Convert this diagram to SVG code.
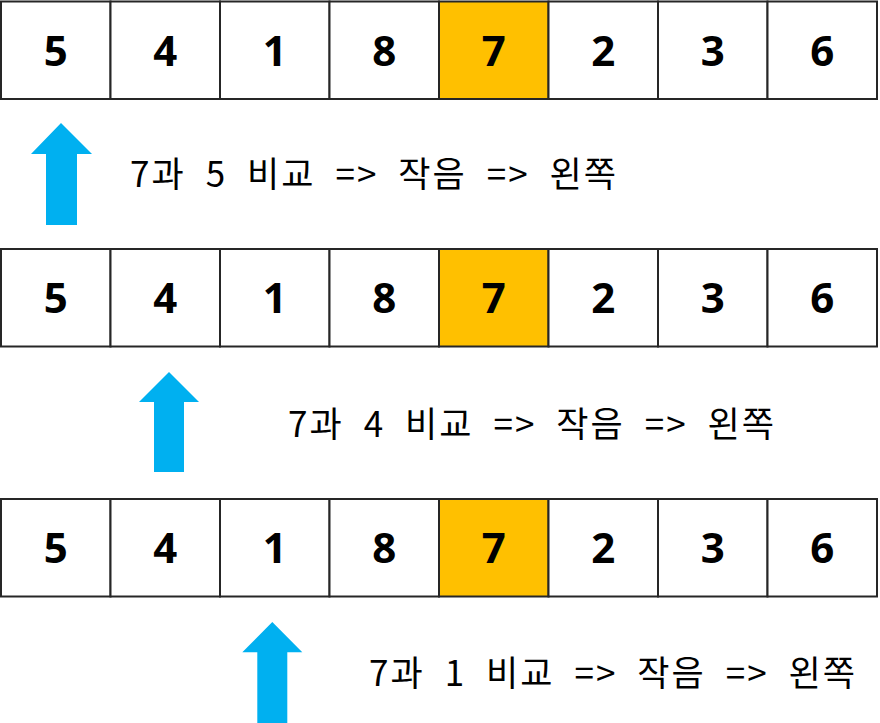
<svg xmlns="http://www.w3.org/2000/svg" width="880" height="723" viewBox="0 0 880 723">
<style>
.cell{fill:#ffffff;stroke:#262626;stroke-width:2}
.hl{fill:#FFC000}
.num{font-family:"Noto Sans","Liberation Sans",sans-serif;font-weight:bold;font-size:42px;fill:#000;text-anchor:middle}
.lbl{font-family:"Noto Sans CJK KR","Noto Sans",sans-serif;font-size:35px;fill:#000;word-spacing:10px}
.arrow{fill:#00B0F0}
</style>
<defs>
<g id="row">
<rect class="cell" x="1" y="0" width="109.5" height="97.5"/>
<rect class="cell" x="110.5" y="0" width="109.5" height="97.5"/>
<rect class="cell" x="220" y="0" width="109.5" height="97.5"/>
<rect class="cell" x="329.5" y="0" width="109.5" height="97.5"/>
<rect class="cell hl" x="439" y="0" width="109.5" height="97.5"/>
<rect class="cell" x="548.5" y="0" width="109.5" height="97.5"/>
<rect class="cell" x="658" y="0" width="109.5" height="97.5"/>
<rect class="cell" x="767.5" y="0" width="109.5" height="97.5"/>
<text class="num" x="55.75" y="64">5</text>
<text class="num" x="165.25" y="64">4</text>
<text class="num" x="274.75" y="64">1</text>
<text class="num" x="384.25" y="64">8</text>
<text class="num" x="493.75" y="64">7</text>
<text class="num" x="603.25" y="64">2</text>
<text class="num" x="712.75" y="64">3</text>
<text class="num" x="822.25" y="64">6</text>
</g>
</defs>
<g id="row1"><use href="#row" x="0" y="1.5"/></g>
<g id="row2"><use href="#row" x="0" y="249"/></g>
<g id="row3"><use href="#row" x="0" y="499"/></g>
<g id="connectors">
<polygon class="arrow" points="61,123 92,154 77,154 77,225 46,225 46,154 31,154"/>
<polygon class="arrow" points="169,372 199,402 184,402 184,472 154,472 154,402 139,402"/>
<polygon class="arrow" points="272.3,622 302.3,652.3 287.3,652.3 287.3,723 257.3,723 257.3,652.3 242.3,652.3"/>
</g>
<g id="label1"><text class="lbl" x="130" y="187" textLength="486" lengthAdjust="spacing">7과 5 비교 =&gt; 작음 =&gt; 왼쪽</text></g>
<g id="label2"><text class="lbl" x="288" y="437" textLength="486" lengthAdjust="spacing">7과 4 비교 =&gt; 작음 =&gt; 왼쪽</text></g>
<g id="label3"><text class="lbl" x="369" y="686" textLength="486" lengthAdjust="spacing">7과 1 비교 =&gt; 작음 =&gt; 왼쪽</text></g>
</svg>
